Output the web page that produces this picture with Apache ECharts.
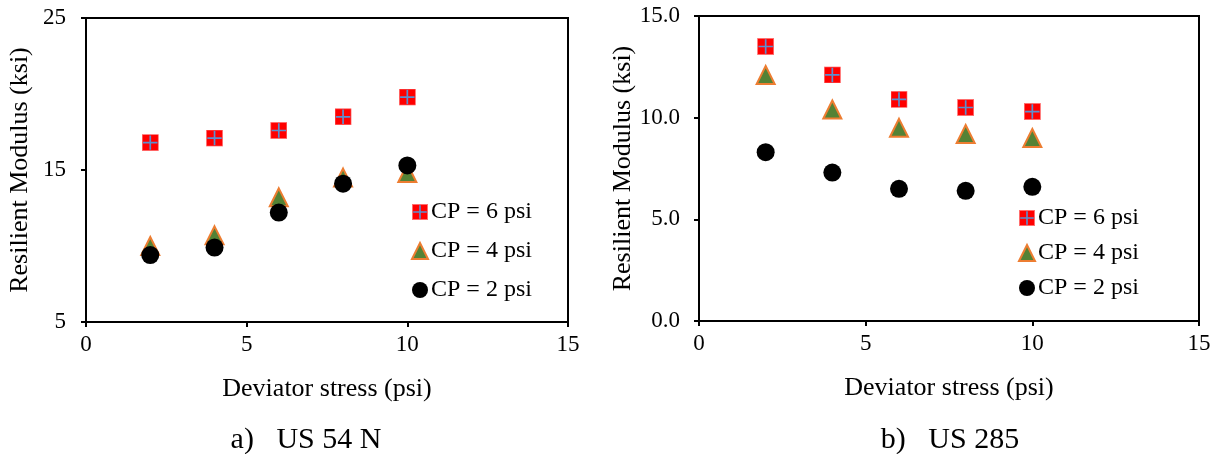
<!DOCTYPE html>
<html>
<head>
<meta charset="utf-8">
<script src="https://cdn.jsdelivr.net/npm/echarts@6/dist/echarts.min.js"></script>
<style>html,body{margin:0;padding:0;background:#fff}#c{width:1219px;height:454px}</style>
</head>
<body>
<div id="c"></div>
<script>
const deviatorStress = [2, 4, 6, 8, 10];
const seriesNames = ['CP = 6 psi', 'CP = 4 psi', 'CP = 2 psi'];
// a) US 54 N
const us54n_cp6 = [16.8, 17.1, 17.6, 18.5, 19.8];
const us54n_cp4 = [10.0, 10.7, 13.2, 14.5, 14.8];
const us54n_cp2 = [9.4, 9.9, 12.2, 14.1, 15.3];
// b) US 285
const us285_cp6 = [13.5, 12.1, 10.9, 10.5, 10.3];
const us285_cp4 = [12.1, 10.4, 9.5, 9.2, 9.0];
const us285_cp2 = [8.3, 7.3, 6.5, 6.4, 6.6];
const captions = ['a)   US 54 N', 'b)   US 285'];

const FONT = '"Liberation Serif","DejaVu Serif",serif';
const sqSvg = "<svg xmlns='http://www.w3.org/2000/svg' width='40' height='40'><rect x='1' y='1' width='38' height='38' fill='#FF0000' stroke='#FF7070' stroke-width='2'/><path d='M20 3V37M3 20H37' stroke='#5B8FD0' stroke-width='4'/></svg>";
const sqSymbol = 'image://data:image/svg+xml;charset=utf-8,' + encodeURIComponent(sqSvg);

function pairs(ys) { return deviatorStress.map((x, i) => [x, ys[i]]); }

function mkSeries(idx, vals) {
  return [
    { name: seriesNames[0], type: 'scatter', xAxisIndex: idx, yAxisIndex: idx, data: pairs(vals[0]),
      symbol: sqSymbol, symbolSize: 17, itemStyle: { opacity: 1 }, z: 3 },
    { name: seriesNames[1], type: 'scatter', xAxisIndex: idx, yAxisIndex: idx, data: pairs(vals[1]),
      symbol: 'triangle', symbolSize: 18, itemStyle: { color: '#548235', borderColor: '#ED7D31', borderWidth: 2, opacity: 1 }, z: 4 },
    { name: seriesNames[2], type: 'scatter', xAxisIndex: idx, yAxisIndex: idx, data: pairs(vals[2]),
      symbol: 'circle', symbolSize: 18, itemStyle: { color: '#000000', opacity: 1 }, z: 5 }
  ];
}

function xAx(idx) {
  return { gridIndex: idx, type: 'value', min: 0, max: 15, interval: 5,
    name: 'Deviator stress (psi)', nameLocation: 'middle', nameGap: 54,
    nameTextStyle: { fontFamily: FONT, fontSize: 26, color: '#000' },
    axisLine: { lineStyle: { color: '#000', width: 2 } },
    axisTick: { show: true, inside: false, length: 5, lineStyle: { color: '#000', width: 2 } },
    axisLabel: { fontFamily: FONT, fontSize: 23, color: '#000', margin: 11 },
    splitLine: { show: false } };
}

function yAx(idx, min, max, interval, nameGap, margin, fmt) {
  return { gridIndex: idx, type: 'value', min: min, max: max, interval: interval,
    name: 'Resilient Modulus (ksi)', nameLocation: 'middle', nameGap: nameGap,
    nameTextStyle: { fontFamily: FONT, fontSize: 26, color: '#000' },
    axisLine: { show: true, lineStyle: { color: '#000', width: 2 } },
    axisTick: { show: true, length: 5, lineStyle: { color: '#000', width: 2 } },
    axisLabel: { fontFamily: FONT, fontSize: 23, color: '#000', margin: margin, formatter: fmt },
    splitLine: { show: false } };
}

const option = {
  animation: false,
  backgroundColor: '#fff',
  grid: [
    { left: 86, top: 18, width: 482, height: 304, show: true, borderColor: '#000', borderWidth: 2 },
    { left: 699, top: 16, width: 500, height: 305, show: true, borderColor: '#000', borderWidth: 2 }
  ],
  xAxis: [xAx(0), xAx(1)],
  yAxis: [
    yAx(0, 5, 25, 10, 53, 20, v => String(v)),
    yAx(1, 0, 15, 5, 60, 19, v => v.toFixed(1))
  ],
  legend: [
    { data: seriesNames, orient: 'vertical', left: 411, top: 200, padding: 0, itemWidth: 16, itemHeight: 16, itemGap: 15,
      selectedMode: false, textStyle: { fontFamily: FONT, fontSize: 24, lineHeight: 24, color: '#000', padding: [0, 0, 0, -2] } },
    { data: seriesNames, orient: 'vertical', left: 1018, top: 206, padding: 0, itemWidth: 16, itemHeight: 16, itemGap: 11,
      selectedMode: false, textStyle: { fontFamily: FONT, fontSize: 24, lineHeight: 24, color: '#000', padding: [0, 0, 0, -2] } }
  ],
  title: [
    { text: captions[0], left: 306, top: 425, padding: 0, textAlign: 'center', textStyle: { fontFamily: FONT, fontSize: 30, fontWeight: 'normal', color: '#000' } },
    { text: captions[1], left: 950, top: 425, padding: 0, textAlign: 'center', textStyle: { fontFamily: FONT, fontSize: 30, fontWeight: 'normal', color: '#000' } }
  ],
  series: [
    ...mkSeries(0, [us54n_cp6, us54n_cp4, us54n_cp2]),
    ...mkSeries(1, [us285_cp6, us285_cp4, us285_cp2])
  ]
};
const chart = echarts.init(document.getElementById('c'), null, { renderer: 'canvas' });
chart.setOption(option);
</script>
</body>
</html>
